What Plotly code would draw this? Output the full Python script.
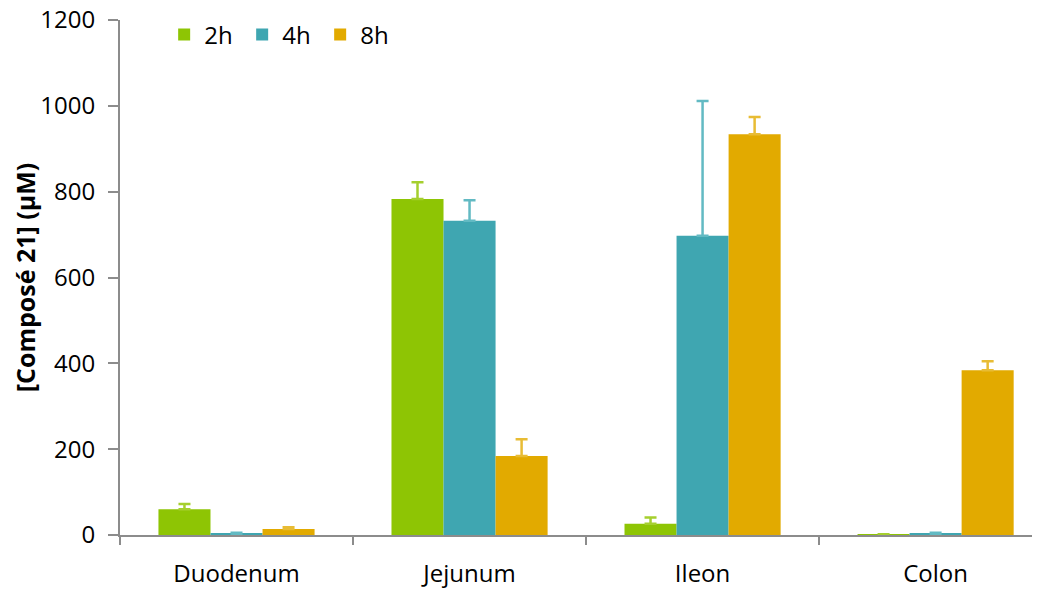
import plotly.graph_objects as go

categories = ["Duodenum", "Jejunum", "Ileon", "Colon"]
series_names = ["2h", "4h", "8h"]
values_2h = [60, 783, 26, 1]
values_4h = [3, 732, 697, 3]
values_8h = [14, 184, 934, 384]
err_2h = [12, 39, 15, 1]
err_4h = [2, 48, 314, 2]
err_8h = [4, 39, 40, 21]
y_ticks = [0, 200, 400, 600, 800, 1000, 1200]

bar_colors = ["#8EC504", "#3FA6B1", "#E2AA00"]
err_colors = ["#A5CF2E", "#62BAC3", "#E8BC34"]

font_family = "Open Sans, Lato, Liberation Sans, sans-serif"

fig = go.Figure()
for name, vals, errs, col, ecol in zip(series_names, [values_2h, values_4h, values_8h],
                                       [err_2h, err_4h, err_8h], bar_colors, err_colors):
    fig.add_trace(go.Bar(
        x=categories, y=vals, name=name,
        marker=dict(color=col, line=dict(width=0)),
        error_y=dict(type="data", array=errs, arrayminus=[0] * len(errs), symmetric=False,
                     color=ecol, thickness=2.5, width=6),
    ))

fig.update_layout(
    width=1032, height=582,
    margin=dict(l=112, r=0, t=12, b=55, autoexpand=False),
    paper_bgcolor="white", plot_bgcolor="white",
    barmode="group", bargap=0.33, bargroupgap=0,
    font=dict(family=font_family, size=24, color="#000000"),
    legend=dict(orientation="h", x=0.048, y=1.015, xanchor="left", yanchor="top",
                font=dict(size=24), entrywidth=33, bgcolor="rgba(0,0,0,0)"),
    xaxis=dict(
        range=[-0.5, 3.448], showline=True, linecolor="#8C8C8C", linewidth=2,
        ticks="outside", tickson="boundaries", ticklen=8, tickcolor="#8C8C8C", tickwidth=2,
        showgrid=False, tickfont=dict(size=24), ticklabelstandoff=16, automargin=False,
    ),
    yaxis=dict(
        range=[0, 1200], tickvals=y_ticks, showline=True, linecolor="#8C8C8C", linewidth=2,
        ticks="outside", ticklen=10, tickcolor="#8C8C8C", tickwidth=2, showgrid=False,
        zeroline=False, tickfont=dict(size=24), ticklabelstandoff=8,
        ticklabeloverflow="allow", automargin=False,
        title=dict(text="<b>[Composé 21] (µM)</b>", font=dict(size=25), standoff=14),
    ),
)

fig.write_html("out.html")
